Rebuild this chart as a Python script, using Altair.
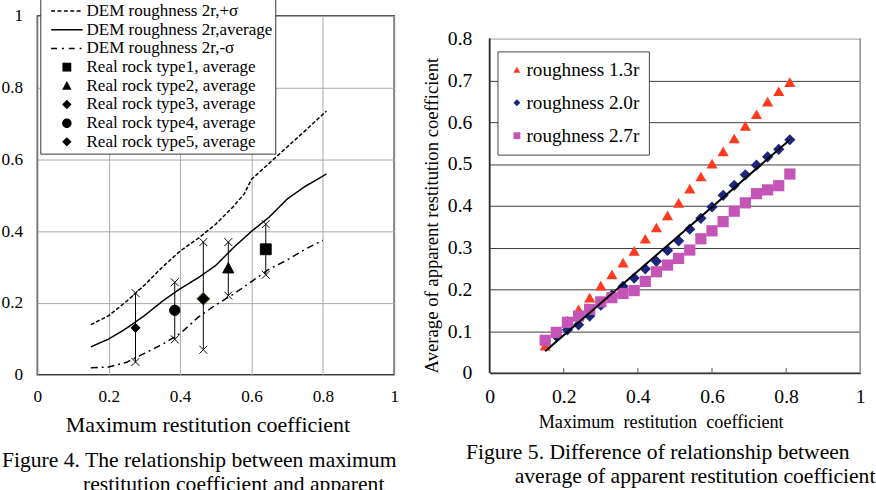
import altair as alt
import pandas as pd

FONT = "Liberation Serif"
NBSP = "\u00a0"
ZW = "\u200b"

# ---------------- Figure 4 data ----------------
line_names = ["DEM roughness 2r,+σ", "DEM roughness 2r,average", "DEM roughness 2r,-σ"]
plus_x = [0.15, 0.20, 0.25, 0.30, 0.35, 0.40, 0.45, 0.50, 0.55, 0.58, 0.60, 0.65, 0.70, 0.75, 0.81]
plus_y = [0.14, 0.165, 0.205, 0.25, 0.30, 0.345, 0.38, 0.42, 0.47, 0.505, 0.545, 0.59, 0.635, 0.68, 0.735]
avg_x = [0.15, 0.20, 0.25, 0.30, 0.35, 0.40, 0.45, 0.50, 0.55, 0.60, 0.65, 0.70, 0.75, 0.81]
avg_y = [0.078, 0.10, 0.13, 0.165, 0.205, 0.24, 0.27, 0.305, 0.355, 0.40, 0.44, 0.49, 0.525, 0.56]
minus_x = [0.15, 0.20, 0.25, 0.30, 0.35, 0.40, 0.45, 0.50, 0.55, 0.60, 0.65, 0.70, 0.75, 0.80]
minus_y = [0.02, 0.022, 0.035, 0.06, 0.085, 0.115, 0.16, 0.195, 0.225, 0.26, 0.295, 0.32, 0.35, 0.375]

rock_names = ["Real rock type1, average", "Real rock type2, average", "Real rock type3, average",
              "Real rock type4, average", "Real rock type5, average"]
rock_x = [0.64, 0.535, 0.465, 0.385, 0.275]
rock_y = [0.35, 0.297, 0.212, 0.18, 0.131]
rock_lo = [0.279, 0.221, 0.07, 0.099, 0.036]
rock_hi = [0.42, 0.37, 0.37, 0.258, 0.228]

ticks4 = [0, 0.2, 0.4, 0.6, 0.8, 1]

caption4 = ["Figure 4. The relationship between maximum",
            ZW + NBSP * 15 + "restitution coefficient and apparent"]

# ---------------- Figure 5 data ----------------
r_names = ["roughness 1.3r", "roughness 2.0r", "roughness 2.7r"]
r_x = [0.15, 0.18, 0.21, 0.24, 0.27, 0.30, 0.33, 0.36, 0.39, 0.42, 0.45, 0.48,
       0.51, 0.54, 0.57, 0.60, 0.63, 0.66, 0.69, 0.72, 0.75, 0.78, 0.81]
tri_y = [0.065, 0.095, 0.125, 0.152, 0.18, 0.209, 0.236, 0.264, 0.292, 0.321, 0.348, 0.377,
         0.407, 0.441, 0.47, 0.501, 0.53, 0.561, 0.591, 0.619, 0.649, 0.674, 0.696]
dia_y = [0.078, 0.088, 0.103, 0.115, 0.136, 0.162, 0.186, 0.207, 0.227, 0.249, 0.267, 0.293,
         0.316, 0.344, 0.37, 0.397, 0.425, 0.449, 0.474, 0.497, 0.517, 0.535, 0.558]
sq_y = [0.078, 0.097, 0.121, 0.136, 0.152, 0.17, 0.18, 0.19, 0.197, 0.219, 0.242, 0.258,
        0.274, 0.294, 0.321, 0.34, 0.362, 0.387, 0.407, 0.429, 0.438, 0.448, 0.476]
fit_x = [0.15, 0.81]
fit_y = [0.052, 0.558]
yticks5 = [0, 0.1, 0.2, 0.3, 0.4, 0.5, 0.6, 0.7, 0.8]
xticks5 = [0, 0.2, 0.4, 0.6, 0.8, 1]

caption5 = ["Figure 5. Difference of relationship between",
            ZW + NBSP * 9 + "average of apparent restitution coefficient"]

# ---------------- styles ----------------
LEG_R = 10.0   # legend symbol unit (px) = sqrt(symbolSize)/2


def dash_path(pattern, half_len=1.6, half_h=0.075):
    """Dashed horizontal line drawn as thin filled rectangles (legend unit coords)."""
    if pattern is None:
        pattern = [100]
    segs, pos, i, on = [], -half_len, 0, True
    while pos < half_len - 1e-9:
        end = min(pos + pattern[i % len(pattern)] / LEG_R, half_len)
        if on:
            segs.append(f"M{pos:.3f},{-half_h}H{end:.3f}V{half_h}H{pos:.3f}Z")
        pos, on, i = end, not on, i + 1
    return "".join(segs)


DASHES = [[4, 2], [1, 0], [7, 4, 2, 4]]
LEG_LINES = [dash_path([4, 2.5]), dash_path(None), dash_path([6, 5, 2, 5])]
P_SQUARE = "M-0.45,-0.45H0.45V0.45H-0.45Z"
P_TRI = "M0,-0.48L0.48,0.4L-0.48,0.4Z"
P_DIA = "M0,-0.48L0.48,0L0,0.48L-0.48,0Z"
P_CIRC = "M-0.48,0A0.48,0.48 0 1,0 0.48,0A0.48,0.48 0 1,0 -0.48,0Z"
P_X = "M-1,-1L1,1M-1,1L1,-1"
ALL8 = line_names + rock_names
SHAPES8 = LEG_LINES + [P_SQUARE, P_TRI, P_DIA, P_CIRC, P_DIA]
MARK_SIZE = dict(zip(rock_names, [600, 560, 760, 480, 360]))
STROKES5 = ["black", "black", "#6b6b1e", "black", "black"]

# ---------------- Figure 4 chart ----------------
rows = []
for name, xs_, ys_ in zip(line_names, [plus_x, avg_x, minus_x], [plus_y, avg_y, minus_y]):
    for i, (a, b) in enumerate(zip(xs_, ys_)):
        rows.append({"series": name, "x": a, "y": b, "i": i})
lines_df = pd.DataFrame(rows)
rocks_df = pd.DataFrame({"series": rock_names, "x": rock_x, "y": rock_y, "lo": rock_lo, "hi": rock_hi})
rocks_df["sz"] = rocks_df["series"].map(MARK_SIZE)
ends_df = pd.DataFrame({"x": rock_x + rock_x, "y": rock_lo + rock_hi})

xs4 = alt.Scale(domain=[0, 1], nice=False, zero=False)
ys4 = alt.Scale(domain=[0, 1], nice=False, zero=False)
ax4x = alt.Axis(values=ticks4, format="~g", grid=True, gridColor="#a8a8a8", gridWidth=1,
                domain=False, ticks=False, labelFont=FONT, labelFontSize=17.5, labelColor="black",
                labelPadding=13, labelFlush=False, labelOverlap=False,
                title="Maximum restitution coefficient", titleFont=FONT, titleFontSize=22.3,
                titleFontWeight="normal", titleColor="black", titlePadding=9, titleX=173)
ax4y = alt.Axis(values=ticks4, format="~g", grid=True, gridColor="#a8a8a8", gridWidth=1,
                domain=False, ticks=False, labelFont=FONT, labelFontSize=17.5, labelColor="black",
                labelPadding=15, labelFlush=False, labelOverlap=False, title=None)
X4 = alt.X("x:Q", scale=xs4, axis=ax4x)
Y4 = alt.Y("y:Q", scale=ys4, axis=ax4y)

leg4 = alt.Legend(orient="none", legendX=3, legendY=-18, title=None, fillColor="white",
                  strokeColor="#333333", padding=3, labelFont=FONT, labelFontSize=17.3,
                  labelColor="black", labelLimit=400, symbolSize=(2 * LEG_R) ** 2,
                  symbolStrokeWidth=0, symbolFillColor="black", symbolStrokeColor="black",
                  symbolOpacity=1, rowPadding=-0.6, labelOffset=10, symbolOffset=14)

lines4 = alt.Chart(lines_df).mark_line(color="black", strokeWidth=1.5).encode(
    x=X4, y=Y4, order="i:Q",
    strokeDash=alt.StrokeDash("series:N", scale=alt.Scale(domain=line_names, range=DASHES), legend=None),
)
bars4 = alt.Chart(rocks_df).mark_rule(color="black", strokeWidth=1).encode(
    x=X4, y=alt.Y("lo:Q", scale=ys4, axis=ax4y), y2="hi:Q")
ends4 = alt.Chart(ends_df).mark_point(shape=P_X, filled=False, color="black", size=64,
                                      strokeWidth=1, opacity=1).encode(x=X4, y=Y4)
marks4 = alt.Chart(rocks_df).mark_point(filled=True, fill="black", opacity=1, strokeWidth=1).encode(
    x=X4, y=Y4,
    shape=alt.Shape("series:N", scale=alt.Scale(domain=ALL8, range=SHAPES8), legend=leg4),
    stroke=alt.Stroke("series:N", scale=alt.Scale(domain=rock_names, range=STROKES5), legend=None),
    size=alt.Size("sz:Q", scale=None, legend=None),
)
fig4 = alt.layer(lines4, bars4, ends4, marks4).properties(
    width=363, height=365,
    view=alt.ViewBackground(stroke="#222222", strokeWidth=1.5),
    title=alt.TitleParams(text=caption4, orient="bottom", anchor="start", frame="group",
                          font=FONT, fontSize=22, fontWeight="normal", color="black",
                          dx=-36, offset=15, lineHeight=24),
)

# ---------------- Figure 5 chart ----------------
pts_df = pd.DataFrame({
    "series": [r_names[0]] * len(r_x) + [r_names[1]] * len(r_x) + [r_names[2]] * len(r_x),
    "x": r_x * 3,
    "y": tri_y + dia_y + sq_y,
})
fit_df = pd.DataFrame({"x": fit_x, "y": fit_y})
tick_df = pd.DataFrame({"x": xticks5[1:-1]})

Y5MAX = 0.8 * 363 / 340
xs5 = alt.Scale(domain=[0, 1], nice=False, zero=False)
ys5 = alt.Scale(domain=[0, Y5MAX], nice=False, zero=False)
ax5x = alt.Axis(values=xticks5, format="~g", grid=False, domain=True, domainColor="#333333",
                domainWidth=2, ticks=False, labelFont=FONT, labelFontSize=20, labelColor="black",
                labelPadding=14, labelFlush=False, labelOverlap=False,
                title="Maximum" + NBSP + " restitution" + NBSP + " coefficient",
                titleFont=FONT, titleFontSize=18.5,
                titleFontWeight="normal", titleColor="black", titlePadding=7, titleX=174)
ax5y = alt.Axis(values=yticks5, format="~g", grid=True,
                gridColor={"condition": {"test": "datum.value >= 0.79", "value": "#9a9a9a"},
                           "value": "#3a3a3a"},
                gridWidth=1, domain=False, ticks=False, labelFont=FONT, labelFontSize=20,
                labelColor="black", labelPadding=18, labelFlush=False, labelOverlap=False,
                title="Average of apparent restitution coefficient", titleFont=FONT,
                titleFontSize=19, titleFontWeight="normal", titleColor="black",
                titleAnchor="start", titlePadding=6)
X5 = alt.X("x:Q", scale=xs5, axis=ax5x)
Y5 = alt.Y("y:Q", scale=ys5, axis=ax5y)

leg5 = alt.Legend(orient="none", legendX=8, legendY=36, title=None, fillColor="white",
                  strokeColor="#444444", padding=9, labelFont=FONT, labelFontSize=19.5,
                  labelColor="black", labelLimit=400, symbolSize=49, symbolStrokeWidth=0,
                  symbolOpacity=1, rowPadding=12.5, labelOffset=0, symbolOffset=1)

colors5 = ["#ff3b1f", "#1b267c", "#c455b6"]
shapes5 = ["triangle-up", "diamond", "square"]

left_border = alt.Chart(fit_df).mark_rule(color="#2a2a2a", strokeWidth=1.5).encode(
    x=alt.X(datum=0, scale=xs5, axis=ax5x), y=alt.Y(datum=0, scale=ys5, axis=ax5y), y2=alt.Y2(datum=0.8))
right_border = alt.Chart(fit_df).mark_rule(color="#9a9a9a", strokeWidth=1.5).encode(
    x=alt.X(datum=1, scale=xs5, axis=ax5x), y=alt.Y(datum=0, scale=ys5, axis=ax5y), y2=alt.Y2(datum=0.8))
inner_ticks = alt.Chart(tick_df).mark_rule(color="#555555", strokeWidth=1).encode(
    x=X5, y=alt.Y(datum=0, scale=ys5, axis=ax5y), y2=alt.Y2(datum=0.012))
pts5 = alt.Chart(pts_df).mark_point(filled=True, opacity=1, strokeWidth=0, size=130).encode(
    x=X5, y=Y5,
    color=alt.Color("series:N", scale=alt.Scale(domain=r_names, range=colors5), legend=leg5),
    shape=alt.Shape("series:N", scale=alt.Scale(domain=r_names, range=shapes5), legend=leg5),
)
fit5 = alt.Chart(fit_df).mark_line(color="black", strokeWidth=2).encode(x=X5, y=Y5)

fig5 = alt.layer(left_border, right_border, inner_ticks, pts5, fit5).properties(
    width=377, height=363,
    view=alt.ViewBackground(stroke=None),
    title=alt.TitleParams(text=caption5, orient="bottom", anchor="start", frame="group",
                          font=FONT, fontSize=22, fontWeight="normal", color="black",
                          dx=-24, offset=11, lineHeight=24),
)

chart = alt.hconcat(fig4, fig5, spacing=97, bounds="flush").properties(
    padding={"left": 0, "top": -8, "right": 0, "bottom": 0},
    background="white",
).resolve_scale(shape="independent", size="independent", color="independent",
                stroke="independent", strokeDash="independent"
).configure_axis(labelFont=FONT, titleFont=FONT, labelColor="black", titleColor="black"
).configure_legend(labelFont=FONT).configure_title(font=FONT)

chart.save("out.html", embed_options={"renderer": "svg", "actions": False})
